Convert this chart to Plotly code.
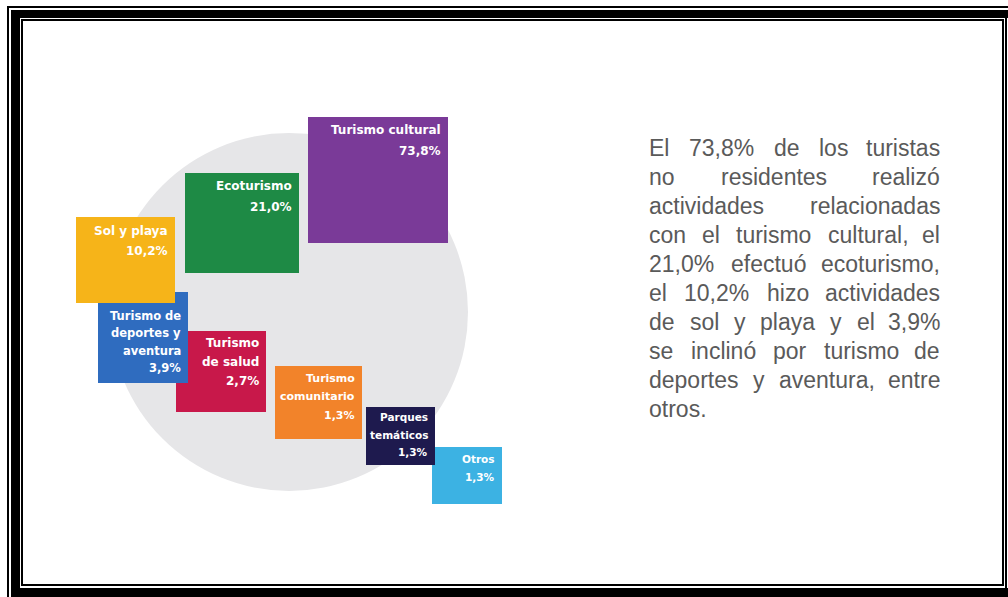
import plotly.graph_objects as go

# ---------------- data ----------------
categories = ["Turismo cultural", "Ecoturismo", "Sol y playa",
              "Turismo de deportes y aventura", "Turismo de salud",
              "Turismo comunitario", "Parques temáticos", "Otros"]
label_lines = [["Turismo cultural"], ["Ecoturismo"], ["Sol y playa"],
               ["Turismo de", "deportes y", "aventura"], ["Turismo", "de salud"],
               ["Turismo", "comunitario"], ["Parques", "temáticos"], ["Otros"]]
values = [73.8, 21.0, 10.2, 3.9, 2.7, 1.3, 1.3, 1.3]

paragraph_lines = [
    "El 73,8% de los turistas",
    "no residentes realizó",
    "actividades relacionadas",
    "con el turismo cultural, el",
    "21,0% efectuó ecoturismo,",
    "el 10,2% hizo actividades",
    "de sol y playa y el 3,9%",
    "se inclinó por turismo de",
    "deportes y aventura, entre",
    "otros.",
]

# ---------------- layout / style (pixel space) ----------------
W, H = 1008, 597
colors = ["#7a3a98", "#1e8a45", "#f6b419", "#2f6cbf", "#c8184a",
          "#f2832a", "#1e1a4e", "#3cb2e3"]
box_x0 = [308, 185, 76, 98, 176, 275, 366, 432]
box_y0 = [117, 173, 217, 292, 331, 366, 407, 447]
box_x1 = [448, 299, 175, 188, 266, 362, 435, 502]
box_y1 = [243, 273, 303, 383, 412, 439, 465, 504]
lab_first = [13, 13, 14, 24, 12, 12, 10, 12]
lab_step = [21, 21, 20, 17.3, 19, 18.5, 17.5, 18]
lab_size = [12, 12, 12, 11.5, 12, 11, 10.5, 10.5]
draw_order = [0, 1, 4, 3, 2, 5, 7, 6]

circle_cx, circle_cy, circle_r = 289, 312, 179

fig = go.Figure()
fig.add_trace(go.Scatter(x=[0, W], y=[0, H], mode="markers",
                         marker=dict(opacity=0), hoverinfo="skip", showlegend=False))

shapes = []
annotations = []

# background circle
shapes.append(dict(type="circle", xref="x", yref="y",
                   x0=circle_cx - circle_r, x1=circle_cx + circle_r,
                   y0=circle_cy - circle_r, y1=circle_cy + circle_r,
                   fillcolor="#e6e6e8", line=dict(width=0), layer="below"))

def fmt(v):
    return f"{v:.1f}".replace(".", ",") + "%"

# boxes drawn as shapes; labels as annotations (annotations sit above shapes, so
# labels of covered boxes are only drawn where the box is on top)
for i in draw_order:
    shapes.append(dict(type="rect", xref="x", yref="y",
                       x0=box_x0[i], x1=box_x1[i], y0=box_y0[i], y1=box_y1[i],
                       fillcolor=colors[i], line=dict(width=0), layer="below"))
for i in draw_order:
    lines = label_lines[i] + [fmt(values[i])]
    for k, t in enumerate(lines):
        annotations.append(dict(x=box_x1[i] - 6.5, y=box_y0[i] + lab_first[i] + k * lab_step[i],
                                xref="x", yref="y", text=t, showarrow=False,
                                xanchor="right", yanchor="middle", borderpad=0,
                                font=dict(family="DejaVu Sans", size=lab_size[i],
                                          color="white", weight="bold")))

# ---------------- justified paragraph ----------------
AW = {' ': 278, '%': 889, ',': 278, '.': 278, 'E': 667, 'ó': 556, 'á': 556}
for d in "0123456789":
    AW[d] = 556
for ch, w in zip("abcdefghijklmnopqrstuvwxyz",
                 [556, 556, 500, 556, 556, 278, 556, 556, 222, 222, 500, 222, 833,
                  556, 556, 556, 556, 333, 500, 278, 556, 500, 722, 500, 500, 500]):
    AW[ch] = w

p_size = 23
p_left, p_right = 648, 941
p_top, p_step = 148, 29
p_color = "#5a5a5a"

def wwidth(s):
    return sum(AW.get(c, 556) for c in s) / 1000 * p_size

for li, line in enumerate(paragraph_lines):
    y = p_top + li * p_step
    words = line.split(" ")
    pfont = dict(family="Liberation Sans, Arial", size=p_size, color=p_color)
    if li == len(paragraph_lines) - 1 or len(words) == 1:
        annotations.append(dict(x=p_left, y=y, xref="x", yref="y", text=line,
                                showarrow=False, xanchor="left", yanchor="middle",
                                borderpad=0, font=pfont))
        continue
    widths = [wwidth(w) for w in words]
    gap = (p_right - p_left - sum(widths)) / (len(words) - 1)
    xpos = p_left
    for k, w in enumerate(words):
        if k == len(words) - 1:
            annotations.append(dict(x=p_right, y=y, xref="x", yref="y", text=w,
                                    showarrow=False, xanchor="right", yanchor="middle",
                                    borderpad=0, font=pfont))
        else:
            annotations.append(dict(x=xpos, y=y, xref="x", yref="y", text=w,
                                    showarrow=False, xanchor="left", yanchor="middle",
                                    borderpad=0, font=pfont))
        xpos += widths[k] + gap

# ---------------- frame ----------------
blk = "#000000"
def rect(x0, y0, x1, y1):
    shapes.append(dict(type="rect", xref="x", yref="y", x0=x0, x1=x1, y0=y0, y1=y1,
                       fillcolor=blk, line=dict(width=0), layer="above"))
# outer thin lines
rect(7, 6, 9, H)
rect(7, 6, W, 8)
rect(1005, 18, 1007, 588)
# thick band (left, top, bottom)
rect(11, 10, 20, H)
rect(11, 10, W, 18)
rect(11, 588, W, H)
# inner thin rectangle
rect(21, 19, 23, 586)
rect(21, 19, 1004, 21)
rect(1002, 19, 1004, 586)
rect(21, 584, 1004, 586)

fig.update_layout(
    width=W, height=H, margin=dict(l=0, r=0, t=0, b=0),
    paper_bgcolor="white", plot_bgcolor="white",
    xaxis=dict(range=[0, W], visible=False, fixedrange=True),
    yaxis=dict(range=[H, 0], visible=False, fixedrange=True),
    shapes=shapes, annotations=annotations, showlegend=False,
)

fig.write_html("out.html",
               post_script="document.body.style.margin='0';document.body.style.overflow='hidden';",
               config={"displayModeBar": False})
